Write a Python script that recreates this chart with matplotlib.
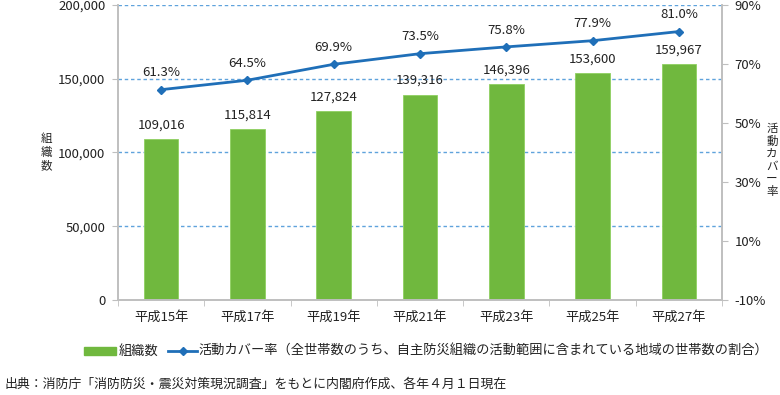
import matplotlib
matplotlib.use("Agg")
import matplotlib.pyplot as plt
import numpy as np

plt.rcParams["font.family"] = ["Noto Sans CJK JP", "DejaVu Sans"]

years = ["平成15年", "平成17年", "平成19年", "平成21年", "平成23年", "平成25年", "平成27年"]
orgs = [109016, 115814, 127824, 139316, 146396, 153600, 159967]
cover = [61.3, 64.5, 69.9, 73.5, 75.8, 77.9, 81.0]

GREEN = "#70b83e"
BLUE = "#1f6fb8"
GRID = "#5fa3dc"
AX = "#bfbfbf"
TXT = "#222222"
FS = 9.5

fig = plt.figure(figsize=(7.8, 3.95), dpi=100)
ax = fig.add_axes([118 / 780, 1 - 300 / 395, 604 / 780, 295 / 395])
x = np.arange(len(years))
for v in range(50000, 200001, 50000):
    ax.axhline(v, color=GRID, lw=1.0, ls=(0, (2.5, 2)), zorder=1)
ax.bar(x, orgs, width=0.4, color=GREEN, edgecolor="#8fd060", lw=0.6, zorder=2)
ax.set_xlim(-0.5, len(years) - 0.5)
ax.set_ylim(0, 200000)
ax.set_yticks(range(0, 200001, 50000))
ax.set_yticklabels([f"{v:,}" for v in range(0, 200001, 50000)], fontsize=FS, color=TXT)
ax.set_xticks(x)
ax.set_xticklabels(years, fontsize=FS, color=TXT)
ax.set_xticks(np.arange(-0.5, len(years)), minor=True)
ax.tick_params(axis="x", which="major", length=0, pad=8)
ax.tick_params(axis="x", which="minor", length=4, color=AX)
ax.tick_params(axis="y", length=4, color=AX, pad=5)
for xi, v in zip(x, orgs):
    ax.text(xi, v + 5000, f"{v:,}", ha="center", va="bottom", fontsize=FS, color=TXT)

ax2 = ax.twinx()
ax2.plot(x, cover, color=BLUE, lw=2, marker="D", ms=4.5, zorder=3)
ax2.set_ylim(-10, 90)
ax2.set_yticks(range(-10, 91, 20))
ax2.set_yticklabels([f"{v}%" for v in range(-10, 91, 20)], fontsize=FS, color=TXT)
ax2.tick_params(axis="y", length=4, color=AX, pad=5)
for xi, v in zip(x, cover):
    ax2.text(xi, v + 3.5, f"{v:.1f}%", ha="center", va="bottom", fontsize=FS, color=TXT)

for a in (ax, ax2):
    a.spines["top"].set_visible(False)
    for s in ("left", "right", "bottom"):
        a.spines[s].set_color(AX)
        a.spines[s].set_linewidth(1.2)

fig.text(46 / 780, 1 - 152 / 395, "組\n織\n数", ha="center", va="center",
         fontsize=8.3, color=TXT, linespacing=1.05)
fig.text(772 / 780, 1 - 160 / 395, "活\n動\nカ\nバ\nー\n率", ha="center", va="center",
         fontsize=8.3, color=TXT, linespacing=0.95)

# legend
ly = 1 - 351 / 395
fig.patches.append(plt.Rectangle((84 / 780, ly - 0.009), 32 / 780, 0.018,
                                 transform=fig.transFigure, color=GREEN))
fig.text(119 / 780, ly, "組織数", ha="left", va="center", fontsize=FS, color=TXT)
fig.lines.append(plt.Line2D([168 / 780, 197 / 780], [ly, ly], transform=fig.transFigure,
                            color=BLUE, lw=2))
fig.lines.append(plt.Line2D([183 / 780], [ly], transform=fig.transFigure,
                            color=BLUE, marker="D", ms=4.5))
fig.text(198 / 780, ly, "活動カバー率（全世帯数のうち、自主防災組織の活動範囲に含まれている地域の世帯数の割合）",
         ha="left", va="center", fontsize=FS, color=TXT)

fig.text(5 / 780, 1 - 384 / 395, "出典：消防庁「消防防災・震災対策現況調査」をもとに内閣府作成、各年４月１日現在",
         ha="left", va="center", fontsize=9.3, color=TXT)

fig.savefig("out.png", dpi=100, facecolor="white")
